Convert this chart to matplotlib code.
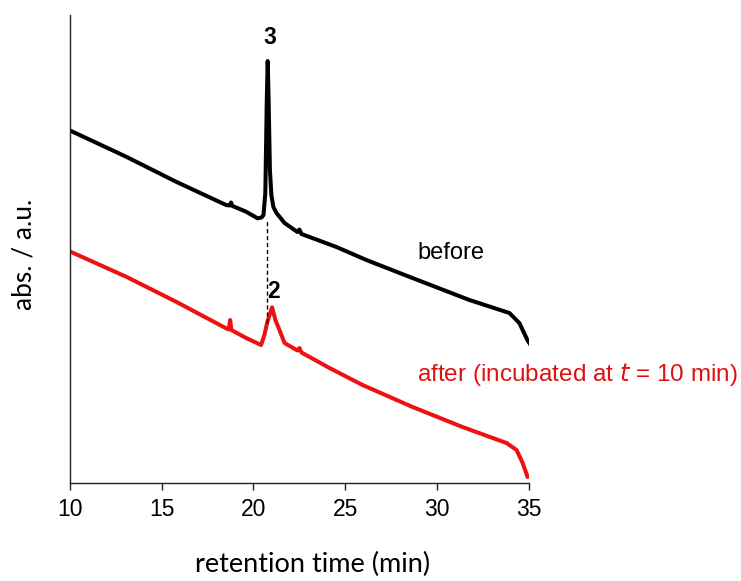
import matplotlib
matplotlib.use("Agg")
import matplotlib.pyplot as plt

# ---- data (retention time in min, absorbance in arbitrary units) ----
before_time = [10.0, 13.06, 15.78, 18.51, 18.72, 18.78, 18.86, 19.6, 20.23, 20.44, 20.55,
               20.65, 20.73, 20.78, 20.83, 20.9, 20.98, 21.09, 21.26, 21.7, 22.4, 22.51,
               22.62, 24.53, 26.16, 28.67, 31.78, 33.96, 34.5, 34.94, 35.15]
before_abs = [352.5, 326.3, 301.3, 278, 277.5, 280.5, 277, 271.3, 264.7, 265.5, 268,
              290, 383, 422, 383, 313, 288, 276, 270, 260, 251, 253.5,
              249, 236, 223, 205, 183, 170, 160, 143, 137]

after_time = [10.0, 13.06, 15.78, 18.51, 18.66, 18.73, 18.8, 19.6, 20.42, 20.6, 20.76,
              21.02, 21.2, 21.42, 21.7, 22.4, 22.51, 22.62, 24.15, 25.95, 28.68, 31.4,
              33.8, 34.35, 34.68, 34.95]
after_abs = [231.5, 206.3, 181.3, 154.7, 153.5, 163, 153, 145, 138, 148, 161,
             175.7, 163, 153, 140, 132.5, 135, 130.5, 115, 98, 76, 56,
             40, 33, 20, 6]

xticks = [10, 15, 20, 25, 30, 35]
peak_before_label = "3"
peak_after_label = "2"
peak_before_pos = (20.88, 446)
peak_after_pos = (21.08, 191)
dash_x = 20.72
dash_y = (160, 264)

fig = plt.figure(figsize=(7.41, 5.81), dpi=100)
ax = fig.add_axes([70 / 741, 98 / 581, (529 - 70.5) / 741, 468 / 581])

ax.plot(before_time, before_abs, color="black", lw=2.9, solid_joinstyle="round",
        solid_capstyle="round")
ax.plot(after_time, after_abs, color="#ee1111", lw=2.9, solid_joinstyle="round",
        solid_capstyle="round")
ax.plot([dash_x, dash_x], list(dash_y), color="black", lw=1.0, ls=(0, (3, 2)))

ax.set_xlim(10, 35)
ax.set_ylim(0, 468)
ax.set_xticks(xticks)
ax.set_xticklabels([str(t) for t in xticks], fontfamily="Liberation Sans", fontsize=16.5)
ax.set_yticks([])
for s in ["top", "right"]:
    ax.spines[s].set_visible(False)
for s in ["left", "bottom"]:
    ax.spines[s].set_linewidth(1.0)
    ax.spines[s].set_color("#222222")
ax.tick_params(axis="x", direction="out", length=5, width=1.0, pad=6, color="#222222")

ax.text(*peak_before_pos, peak_before_label, fontfamily="Liberation Sans", fontsize=16.5,
        fontweight="bold", ha="center", va="center")
ax.text(*peak_after_pos, peak_after_label, fontfamily="Liberation Sans", fontsize=16.5,
        fontweight="bold", ha="center", va="center")
ax.text(28.95, 230, "before", fontfamily="Liberation Sans", fontsize=17,
        ha="left", va="center", color="black")
ax.text(28.9, 108, "after (incubated at $\\mathit{t}$ = 10 min)", fontfamily="Liberation Sans",
        fontsize=17.5, ha="left", va="center", color="#dd1111", clip_on=False)

ax.set_xlabel("retention time (min)", fontfamily="Lato", fontsize=19.5, va="center")
ax.xaxis.set_label_coords(0.529, -0.175)
ax.set_ylabel("abs. / a.u.", fontfamily="Lato", fontsize=19, va="center")
ax.yaxis.set_label_coords(-0.1, 0.489)

fig.savefig("out.png", dpi=100)
